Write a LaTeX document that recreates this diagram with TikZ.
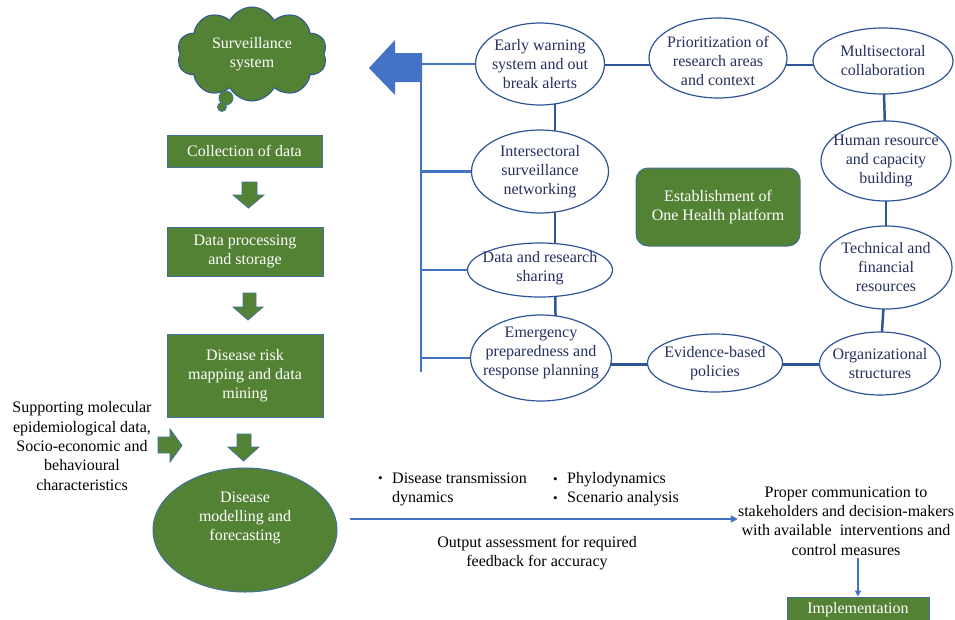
\documentclass[tikz,border=0pt]{standalone}
\usepackage{fontspec}
\setmainfont{Liberation Serif}
\usetikzlibrary{shapes.geometric,shapes.symbols,backgrounds,arrows.meta}
\definecolor{gfill}{HTML}{548235}
\definecolor{bline}{HTML}{2F5597}
\definecolor{barrow}{HTML}{4472C4}
\definecolor{etxt}{HTML}{262F5E}
\definecolor{gborder}{HTML}{41719C}
\newcommand{\bul}{\makebox[14pt][l]{\fontsize{13}{14}\selectfont\raisebox{0.5pt}{\textbullet}}}
\begin{document}
\begin{tikzpicture}[x=1pt,y=-1pt,
  every node/.style={font=\fontsize{16}{19.3}\selectfont},
  gbox/.style={rectangle, draw=gborder, line width=1pt, fill=gfill, text=white, align=center, inner sep=0pt},
  ell/.style={ellipse, draw=bline, line width=1.2pt, fill=white, inner sep=0pt},
  etext/.style={text=etxt, align=center, inner sep=0pt, font=\fontsize{16}{19}\selectfont},
  conn/.style={draw=bline, line width=2.5pt},
  vline/.style={draw=barrow, line width=2.2pt},
  blk/.style={fill=gfill, draw=gborder, line width=0.8pt},
  ptext/.style={align=center, inner sep=0pt, text=black}
]
\useasboundingbox (0,0) rectangle (955,619);

% cloud
\node[cloud, cloud puffs=10, cloud puff arc=125, aspect=1.7, draw=bline, line width=1pt,
      fill=gfill, text=white, align=center, minimum width=150, minimum height=94, inner sep=0pt]
      (surv) at (252,54) {Surveillance\\system};
\filldraw[blk] (226,98) circle[radius=7pt];
\filldraw[blk] (222,107) circle[radius=4.5pt];

% left column
\node[gbox, minimum width=155, minimum height=32] (coll) at (244.5,151) {Collection of data};
\node[gbox, minimum width=156, minimum height=49] (proc) at (245,251.5) {Data processing\\and storage};
\node[gbox, minimum width=156, minimum height=83] (risk) at (245,375.5) {Disease risk\\mapping and data\\mining};
\node[ellipse, draw=gborder, line width=1pt, fill=gfill, inner sep=0pt, minimum width=184, minimum height=124,
      label={[align=center, text=white, inner sep=0pt, yshift=12pt]center:{Disease\\modelling and\\forecasting}}]
      (model) at (245,530) {};

% block arrows
\path[blk] (242,182) -- (257,182) -- (257,195) -- (264,195) -- (248.5,208) -- (233,195) -- (242,195) -- cycle;
\path[blk] (243,293) -- (256,293) -- (256,307) -- (263,307) -- (248,320) -- (233,307) -- (243,307) -- cycle;
\path[blk] (237,434) -- (251,434) -- (251,447) -- (259,447) -- (243.5,461) -- (228,447) -- (237,447) -- cycle;
\path[blk] (158,437) -- (170,437) -- (170,429) -- (182,445.5) -- (170,462) -- (170,453) -- (158,453) -- cycle;

\node[ptext] (supp) at (82,446) {Supporting molecular\\epidemiological data,\\Socio-economic and\\behavioural\\characteristics};

% big blue arrow and vertical bus
\fill[barrow] (422,53) -- (395,53) -- (395,40) -- (369,68) -- (395,95) -- (395,82) -- (422,82) -- cycle;
\coordinate (vtop) at (421,53);
\coordinate (vbot) at (421,372);

% ellipses
\node[ell, minimum width=129, minimum height=82,
      label={[etext]center:{Early warning\\system and out\\break alerts}}] (ew) at (540,64) {};
\node[ell, minimum width=138, minimum height=80,
      label={[etext,yshift=-3pt]center:{Prioritization of\\research areas\\and context}}] (pr) at (718,58) {};
\node[ell, minimum width=140, minimum height=66,
      label={[etext]center:{Multisectoral\\collaboration}}] (ms) at (883,61) {};
\node[ell, minimum width=130, minimum height=80,
      label={[etext]center:{Human resource\\and capacity\\building}}] (hr) at (886,161) {};
\node[ell, minimum width=132, minimum height=83,
      label={[etext]center:{Technical and\\financial\\resources}}] (tf) at (886,267.5) {};
\node[ell, minimum width=137, minimum height=83,
      label={[etext]center:{Intersectoral\\surveillance\\networking}}] (is) at (540,171.5) {};
\node[ell, minimum width=145, minimum height=54,
      label={[etext,yshift=2pt]center:{Data and research\\sharing}}] (ds) at (540,270) {};
\node[ell, minimum width=141, minimum height=86,
      label={[etext,yshift=5pt]center:{Emergency\\preparedness and\\response planning}}] (em) at (541,358) {};
\node[ell, minimum width=135, minimum height=58,
      label={[etext]center:{Evidence-based\\policies}}] (eb) at (715,363) {};
\node[ell, minimum width=121, minimum height=63,
      label={[etext]center:{Organizational\\structures}}] (os) at (880,363.5) {};

\node[gbox, rounded corners=12pt, minimum width=164, minimum height=78] (oh) at (718,207) {Establishment of\\One Health platform};

\begin{scope}[on background layer]
  \draw[vline] (vtop) -- (vbot);
  \draw[vline] (ew.center -| vtop) -- (ew.center);
  \draw[vline] (is.center -| vtop) -- (is.center);
  \draw[vline] (ds.center -| vtop) -- (ds.center);
  \draw[vline] (em.center -| vtop) -- (em.center);
  \draw[conn] ([yshift=-1pt]ew.center) -- ([yshift=-1pt]ms.center |- ew.center);
  \draw[conn] ([xshift=15pt]ew.center) -- ([xshift=15pt]is.center);
  \draw[conn] ([xshift=15pt]is.center) -- ([xshift=15pt]ds.center);
  \draw[conn] ([xshift=15pt]ds.center) -- ([xshift=15pt]em.center);
  \draw[conn] (ms.center) -- (hr.center);
  \draw[conn] (hr.center) -- (tf.center);
  \draw[conn] (tf.center) -- (os.center);
  \draw[conn] ([yshift=-1pt]os.center) -- ([yshift=-1pt]em.center |- os.center);
\end{scope}

% bottom part
\node[ptext, anchor=west, align=left] (b1) at (378,489.5) {\bul Disease transmission\\\hspace*{14pt}dynamics};
\node[ptext, anchor=west, align=left] (b2) at (553,489.5) {\bul Phylodynamics\\\bul Scenario analysis};
\node[ptext] (outp) at (537,553) {Output assessment for required\\feedback for accuracy};
\node[ptext] (comm) at (846,521) {Proper communication to\\stakeholders and decision-makers\\with available\ \ interventions and\\control measures};
\coordinate (astart) at (350,519);
\draw[barrow, line width=2pt, -{Triangle[length=7pt,width=7pt]}] (astart) -- (astart -| comm.west);
\node[gbox, minimum width=142, minimum height=26] (impl) at (858,610) {Implementation};
\draw[barrow, line width=1.2pt, -{Triangle[length=6pt,width=6pt]}] ([yshift=-2pt]comm.south -| impl.north) -- (impl.north);
\end{tikzpicture}
\end{document}
